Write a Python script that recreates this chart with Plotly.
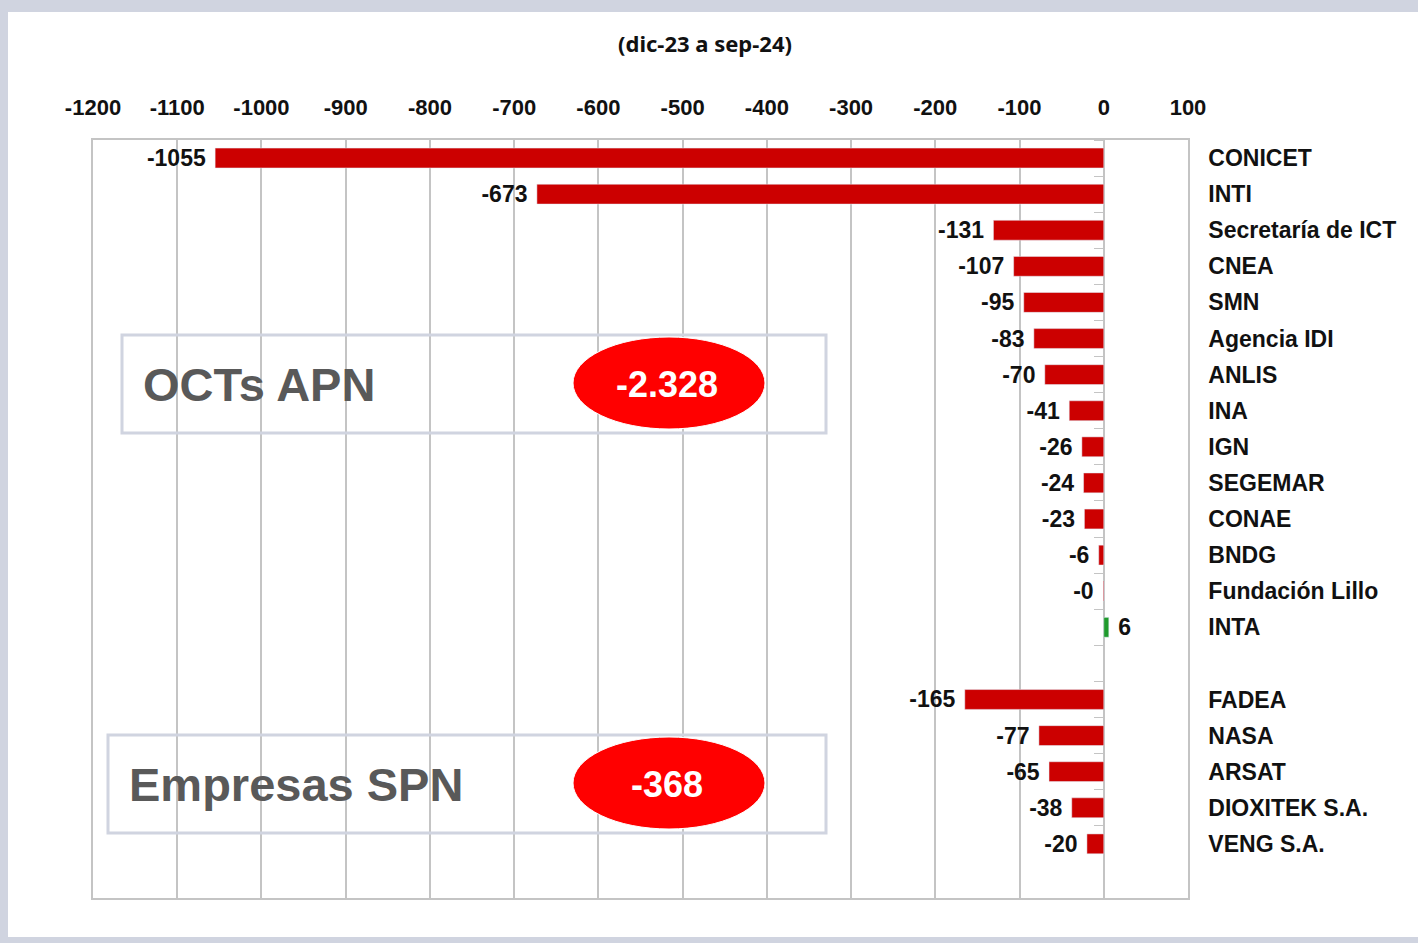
import plotly.graph_objects as go

# dotación: variación dic-23 a sep-24
organismos = [
    "CONICET", "INTI", "Secretaría de ICT", "CNEA", "SMN", "Agencia IDI", "ANLIS",
    "INA", "IGN", "SEGEMAR", "CONAE", "BNDG", "Fundación Lillo", "INTA",
    " ",
    "FADEA", "NASA", "ARSAT", "DIOXITEK S.A.", "VENG S.A.",
]
variacion = [
    -1055, -673, -131, -107, -95, -83, -70,
    -41, -26, -24, -23, -6, -0.2, 6,
    None,
    -165, -77, -65, -38, -20,
]
x_ticks = list(range(-1200, 101, 100))

total_octs = "-2.328"
total_empresas = "-368"

RED = "#cc0000"
GREEN = "#1f9a2c"
GRID = "#c4c4c4"
FRAME = "#d0d4e0"
BOLD = "Liberation Sans, Arial, sans-serif"


def bar_label(v):
    if v is None:
        return ""
    return f" {v:.0f}" if v > 0 else f"{v:.0f} "


labels = [bar_label(v) for v in variacion]
colors = [GREEN if (v is not None and v > 0) else RED for v in variacion]

fig = go.Figure()
fig.add_trace(
    go.Bar(
        x=variacion,
        y=organismos,
        orientation="h",
        width=0.55,
        marker=dict(color=colors, line=dict(width=0)),
        text=labels,
        textposition="outside",
        constraintext="none",
        textfont=dict(family=BOLD, size=23, color="#111111", weight="bold"),
        cliponaxis=False,
        hoverinfo="x+y",
        showlegend=False,
    )
)
# copy on the overlay axis only to carry the boundary ticks at x = 0
fig.add_trace(
    go.Bar(
        x=variacion, y=organismos, orientation="h", yaxis="y2",
        marker=dict(color="rgba(0,0,0,0)"), hoverinfo="skip", showlegend=False,
    )
)

fig.update_layout(
    width=1418,
    height=943,
    margin=dict(l=93, r=230, t=140, b=45),
    paper_bgcolor=FRAME,
    plot_bgcolor="rgba(0,0,0,0)",
    bargap=0.45,
    barmode="overlay",
    title=dict(
        text="(dic-23 a sep-24)",
        x=705 / 1418, xanchor="center",
        y=1 - 44 / 943, yanchor="middle",
        font=dict(family="Noto Sans, sans-serif", size=22, color="#111111", weight="bold"),
    ),
    xaxis=dict(
        side="top",
        range=[-1200, 100],
        tickvals=x_ticks,
        ticktext=[str(v) for v in x_ticks],
        tickfont=dict(family=BOLD, size=22, color="#111111", weight="bold"),
        ticks="",
        ticklabelstandoff=14,
        showgrid=True, gridcolor=GRID, gridwidth=1.5,
        zeroline=True, zerolinecolor=GRID, zerolinewidth=1.5,
        showline=True, mirror=True, linecolor=GRID, linewidth=1.5,
        fixedrange=True,
    ),
    yaxis=dict(
        type="category",
        categoryorder="array",
        categoryarray=organismos,
        range=[20.5, -0.5],
        side="right",
        tickfont=dict(family=BOLD, size=23, color="#111111", weight="bold"),
        ticks="",
        ticklabelstandoff=14,
        showgrid=False,
        showline=True, mirror=True, linecolor=GRID, linewidth=1.5,
        fixedrange=True,
    ),
    yaxis2=dict(
        type="category",
        categoryorder="array",
        categoryarray=organismos,
        range=[20.5, -0.5],
        overlaying="y",
        anchor="free",
        position=1200 / 1300,
        side="left",
        ticks="outside",
        tickson="boundaries",
        ticklen=10,
        tickcolor=GRID,
        tickwidth=1,
        showticklabels=False,
        showgrid=False,
        showline=False,
        fixedrange=True,
    ),
)


def px_x(p):
    return (p - 93) / 1095


def px_y(p):
    return 1 - (p - 140) / 758


# white panel over the grey frame
fig.add_shape(type="rect", xref="paper", yref="paper", layer="below",
              x0=px_x(8), x1=px_x(1418), y0=px_y(937), y1=px_y(12),
              fillcolor="white", line=dict(width=0))

# summary boxes
for (left, top, bottom, name, total) in [
    (122, 335, 433, "OCTs APN", total_octs),
    (108, 735, 833, "Empresas SPN", total_empresas),
]:
    fig.add_shape(type="rect", xref="paper", yref="paper",
                  x0=px_x(left), x1=px_x(826), y0=px_y(bottom), y1=px_y(top),
                  line=dict(color=FRAME, width=3), fillcolor="rgba(0,0,0,0)")
    fig.add_shape(type="circle", xref="paper", yref="paper",
                  x0=px_x(573), x1=px_x(765), y0=px_y(bottom - 4), y1=px_y(top + 2),
                  fillcolor="#ff0000", line=dict(color="white", width=1))
    mid = (top + bottom) / 2
    fig.add_annotation(xref="paper", yref="paper", x=px_x(left + 19), y=px_y(mid),
                       xanchor="left", yanchor="middle", showarrow=False, text=name,
                       font=dict(family=BOLD, size=47, color="#595959", weight="bold"))
    fig.add_annotation(xref="paper", yref="paper", x=px_x(667), y=px_y(mid),
                       xanchor="center", yanchor="middle", showarrow=False, text=total,
                       font=dict(family=BOLD, size=36, color="white", weight="bold"))

fig.write_html("out.html", config={"displayModeBar": False},
               post_script="document.body.style.margin='0';")
